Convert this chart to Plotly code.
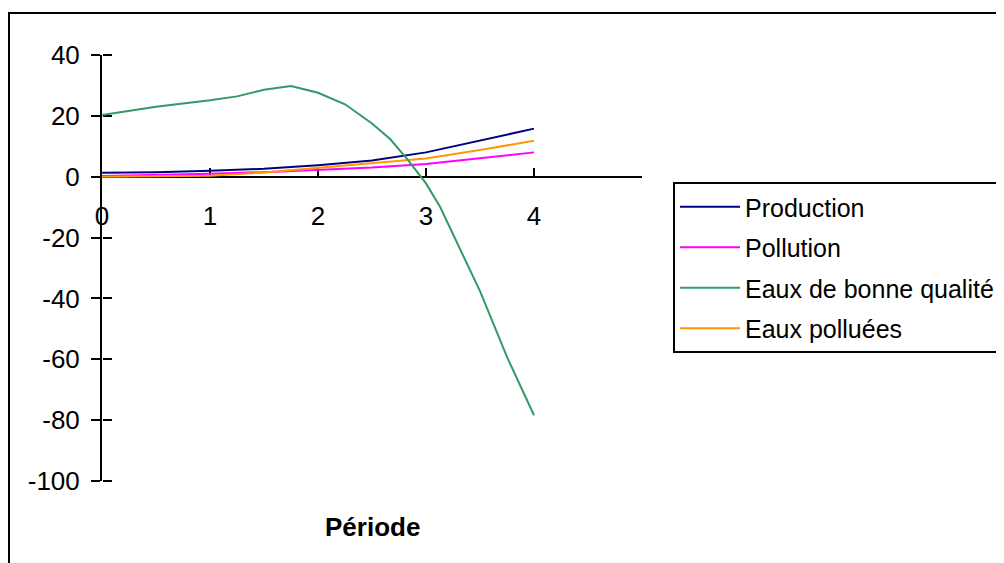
import plotly.graph_objects as go

# ---- data ----
periods = [0, 0.5, 1, 1.5, 2, 2.5, 3, 3.5, 4]
production = [1.3, 1.5, 2.0, 2.6, 3.8, 5.3, 8.0, 11.8, 15.8]
pollution = [0.2, 0.5, 1.0, 1.5, 2.2, 3.0, 4.2, 6.0, 8.0]
eaux_polluees = [0.0, 0.1, 0.3, 1.4, 3.0, 4.5, 6.0, 8.8, 11.8]

periods_bq = [0, 0.5, 1, 1.25, 1.5, 1.75, 2, 2.25, 2.5, 2.67, 2.83, 3, 3.13, 3.5, 3.75, 4]
eaux_bonne = [20.3, 23.0, 25.1, 26.4, 28.6, 29.8, 27.6, 23.8, 17.5, 12.3, 5.6, -2.2, -9.9, -37.6, -59.2, -78.4]

x_ticks = [0, 1, 2, 3, 4, 5]
x_ticktext = ["0", "1", "2", "3", "4", ""]
y_ticks = [-100, -80, -60, -40, -20, 0, 20, 40]
y_ticktext = ["-100", "-80", "-60", "-40", "-20", "0", "20", "40"]

series_names = ["Production", "Pollution", "Eaux de bonne qualité", "Eaux polluées"]
series_colors = ["#000080", "#FF00FF", "#339966", "#FF9900"]

FONT = "Liberation Sans, Arial, sans-serif"
FS = 26
FS_LEG = 25

# ---- layout geometry (page pixels; the page body adds an 8px offset) ----
W, H = 1004, 563
OFF = 8
L, R_px = 102, 642
T, B_px = 55, 481
YMIN, YMAX = -100, 40
XMIN, XMAX = 0, 5
plot_w = R_px - L
plot_h = B_px - T


def px_to_paper_x(px):
    return (px - L) / plot_w


def px_to_paper_y(py):
    return (B_px - py) / plot_h


fig = go.Figure()
xs = [periods, periods, periods_bq, periods]
ys = [production, pollution, eaux_bonne, eaux_polluees]
for i, (name, col) in enumerate(zip(series_names, series_colors)):
    fig.add_trace(go.Scatter(
        x=xs[i], y=ys[i], mode="lines", name=name,
        line=dict(color=col, width=2),
        legendgroup=f"g{i}",
        yaxis="y2" if i == 2 else "y",
    ))

fig.update_layout(
    width=W, height=H,
    margin=dict(l=L - OFF, r=W - (R_px - OFF), t=T - OFF, b=H - (B_px - OFF),
                pad=0, autoexpand=False),
    paper_bgcolor="white", plot_bgcolor="white",
    font=dict(family=FONT, size=FS, color="black"),
    showlegend=True,
    legend=dict(
        x=px_to_paper_x(673), y=px_to_paper_y(182),
        xanchor="left", yanchor="top",
        bordercolor="black", borderwidth=2,
        bgcolor="white",
        font=dict(family=FONT, size=FS_LEG, color="black"),
        tracegroupgap=5,
        itemwidth=60,
    ),
    xaxis=dict(
        range=[XMIN, XMAX],
        anchor="free", position=(0 - YMIN) / (YMAX - YMIN),
        tickmode="array", tickvals=x_ticks, ticktext=x_ticktext,
        ticks="inside", ticklen=8, tickwidth=2, tickcolor="black",
        showline=True, linecolor="black", linewidth=2,
        showgrid=False, zeroline=False,
        ticklabelstandoff=16,
        tickfont=dict(family=FONT, size=FS, color="black"),
        layer="below traces",
    ),
    yaxis=dict(
        range=[YMIN, YMAX],
        tickmode="array", tickvals=y_ticks, ticktext=y_ticktext,
        ticks="outside", ticklen=9, tickwidth=2, tickcolor="black",
        showline=True, linecolor="black", linewidth=2,
        showgrid=False, zeroline=False,
        ticklabelstandoff=6,
        tickfont=dict(family=FONT, size=FS, color="black"),
        layer="below traces",
    ),
    yaxis2=dict(
        matches="y", overlaying="y", side="right", anchor="free", position=0,
        tickmode="array", tickvals=y_ticks,
        ticks="outside", ticklen=9, tickwidth=2, tickcolor="black",
        showticklabels=False, showline=False,
        showgrid=False, zeroline=False,
        layer="below traces",
    ),
    annotations=[dict(
        text="<b>Période</b>", xref="paper", yref="paper",
        x=0.5, y=px_to_paper_y(527), xanchor="center", yanchor="middle",
        showarrow=False, font=dict(family=FONT, size=FS, color="black"),
    )],
    shapes=[dict(
        type="rect", xref="paper", yref="paper",
        x0=px_to_paper_x(9), x1=px_to_paper_x(1100),
        y0=px_to_paper_y(700), y1=px_to_paper_y(13),
        line=dict(color="black", width=2), fillcolor="rgba(0,0,0,0)",
        layer="below",
    )],
)

fig.write_html("out.html")
